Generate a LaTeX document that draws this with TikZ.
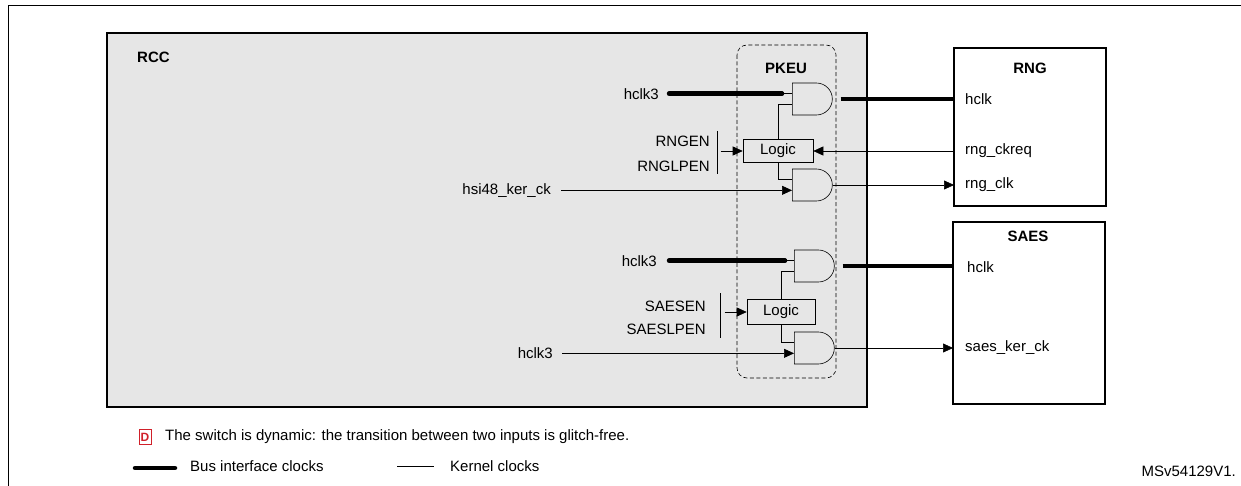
\documentclass[tikz,border=0pt]{standalone}
\usepackage{fontspec}
\setmainfont{Liberation Sans}
\usetikzlibrary{shapes.gates.logic.US,arrows.meta}

\definecolor{rccgray}{HTML}{E6E6E6}
\definecolor{stred}{HTML}{D0202A}

\tikzset{
  lbl/.style={font=\fontsize{15}{17}\selectfont, inner sep=0pt},
  ttl/.style={font=\bfseries\fontsize{15}{17}\selectfont, inner sep=0pt},
  gate/.style={and gate US, draw, semithick, logic gate inputs=nn, minimum height=30pt, minimum width=40pt, inner sep=0pt},
  logicbox/.style={draw, semithick, minimum width=70pt, minimum height=23pt, inner sep=0pt, font=\fontsize{15}{17}\selectfont},
  bus/.style={line width=4.5pt, line cap=round},
  ker/.style={semithick, -{Triangle[length=10pt,width=9pt]}},
}

\begin{document}
\begin{tikzpicture}[x=1pt,y=-1pt]
        \useasboundingbox (0,0) rectangle (1241,486);
        % Frame
        \draw[thick] (8,486) -- (8,5) -- (1241,5);
        % Blocks
        \draw[very thick, fill=rccgray] (107,33) rectangle (867,407);
        \node[ttl, anchor=west] (rcc) at (137,57) {RCC};
        \draw[semithick, dash pattern=on 4pt off 2.5pt, rounded corners=10pt] (737,45) rectangle (836,378);
        \node[ttl] (pkeu) at (786,68) {PKEU};
        \draw[very thick] (954,48) rectangle (1106,206);
        \node[ttl] (rng) at (1030,68) {RNG};
        \draw[very thick] (953,222) rectangle (1105,404);
        \node[ttl] (saes) at (1028,236) {SAES};
        % RNG path
        \node[gate] (g1) at (811,99) {};
        \node[logicbox] (l1) at (778,151) {Logic};
        \node[gate] (g2) at (811,185) {};
        \coordinate (a1) at ([xshift=-123pt]g1.input 1);
        \coordinate (b1) at ([xshift=-10pt]g1.input 1);
        \coordinate (a2) at ([xshift=-231pt]g2.input 2);
        \node[lbl, anchor=east] (hclkA) at ([xshift=-10pt]a1) {hclk3};
        \node[lbl, anchor=east] (hsi) at ([xshift=-10pt]a2) {hsi48\_ker\_ck};
        \node[lbl, anchor=east] (rngen) at (710,141) {RNGEN};
        \node[lbl, anchor=east] (rnglpen) at (710,166) {RNGLPEN};
        \node[lbl, anchor=west] (rhclk) at (965,99) {hclk};
        \node[lbl, anchor=west] (ckreq) at (965,151) {rng\_ckreq};
        \node[lbl, anchor=west] (rngclk) at (965,185) {rng\_clk};
        \draw[bus] (a1) -- (b1);
        \draw[semithick] (b1) -- (g1.input 1);
        \draw[bus, line cap=butt] ([xshift=8pt]g1.output) -- (rhclk.west -| 954,0);
        \draw[semithick] (l1.north) |- (g1.input 2);
        \draw[semithick] (l1.south) |- (g2.input 1);
        \draw[ker] (a2) -- (g2.input 2);
        \draw[ker] (g2.output) -- ([xshift=-11pt]g2.output -| rngclk.west);
        \draw[ker] ([xshift=-11pt]l1.east -| ckreq.west) -- (l1.east);
        \draw[semithick] (717,131) -- (717,174);
        \draw[ker] ([xshift=-22pt]l1.west) -- (l1.west);
        % SAES path
        \node[gate] (g3) at (813,266) {};
        \node[logicbox, minimum width=68pt, minimum height=25pt] (l2) at (781,312) {Logic};
        \node[gate] (g4) at (813,348) {};
        \coordinate (a3) at ([xshift=-125pt]g3.input 1);
        \coordinate (b3) at ([xshift=-9pt]g3.input 1);
        \coordinate (a4) at ([xshift=-232pt]g4.input 2);
        \node[lbl, anchor=east] (hclkB) at ([xshift=-12pt]a3) {hclk3};
        \node[lbl, anchor=east] (hclkC) at ([xshift=-9pt]a4) {hclk3};
        \node[lbl, anchor=east] (saesen) at (706,306) {SAESEN};
        \node[lbl, anchor=east] (saeslpen) at (706,329) {SAESLPEN};
        \node[lbl, anchor=west] (shclk) at (967,267) {hclk};
        \node[lbl, anchor=west] (saesker) at (965,348) {saes\_ker\_ck};
        \draw[bus] (a3) -- (b3);
        \draw[semithick] (b3) -- (g3.input 1);
        \draw[bus, line cap=butt] ([xshift=8pt]g3.output) -- ([xshift=-13pt]g3.output -| shclk.west);
        \draw[semithick] (l2.north) |- (g3.input 2);
        \draw[semithick] (l2.south) |- (g4.input 1);
        \draw[ker] (a4) -- (g4.input 2);
        \draw[ker] (g4.output) -- ([xshift=-12pt]g4.output -| saesker.west);
        \draw[semithick] (720,293) -- (720,338);
        \draw[ker] ([xshift=-22pt]l2.west) -- (l2.west);
        % Legend
        \node[draw=stred, thick, text=stred, font=\bfseries\fontsize{12}{14}\selectfont, minimum width=12pt, minimum height=15pt, inner sep=0pt] (dkey) at (145,437) {D};
        \node[lbl, anchor=west] (dtext) at (165,437) {The switch is dynamic: the transition between two inputs is glitch-free.};
        \draw[bus] (135,468) -- (175,468);
        \node[lbl, anchor=west] (bustext) at (190,466) {Bus interface clocks};
        \draw[semithick] (397,466) -- (434,466);
        \node[lbl, anchor=west] (kertext) at (450,466) {Kernel clocks};
        \node[lbl, anchor=east] (ref) at (1236,471) {MSv54129V1.};
\end{tikzpicture}
\end{document}
